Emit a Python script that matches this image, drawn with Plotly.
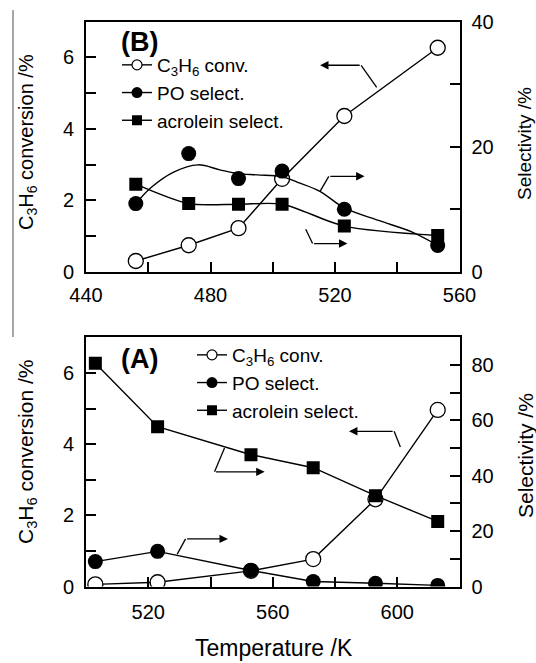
import plotly.graph_objects as go

# ---------------- data ----------------
# Panel (B)
temp_B = [456, 473, 489, 503, 523, 553]
conv_B = [0.30, 0.74, 1.22, 2.60, 4.36, 6.27]          # C3H6 conversion /%
po_B = [10.9, 18.9, 14.9, 16.1, 10.0, 4.2]             # PO selectivity /%
acro_B = [14.0, 10.9, 10.8, 10.8, 7.3, 5.8]            # acrolein selectivity /%
# smooth guide curve drawn through the PO data in panel (B)
temp_B_fit = [456, 461, 468, 476, 483, 489, 495, 503, 508, 515, 523, 534, 545, 553]
po_B_fit = [10.9, 13.5, 15.9, 17.1, 16.3, 15.7, 15.5, 15.2, 14.3, 12.9, 10.2, 8.2, 6.3, 4.2]

# Panel (A)
temp_A = [503, 523, 553, 573, 593, 613]
conv_A = [0.06, 0.12, 0.44, 0.77, 2.45, 4.96]
po_A = [9.0, 12.7, 5.8, 1.8, 1.2, 0.4]
acro_A = [80.6, 57.7, 47.6, 42.9, 32.8, 23.5]

legend_names = ["C<sub>3</sub>H<sub>6</sub> conv.", "PO select.", "acrolein select."]
x_title = "Temperature /K"
yl_title = "C<sub>3</sub>H<sub>6</sub> conversion /%"
yr_title = "Selectivity /%"

# arrows: (xref, yref, tail, corner, head)
arrows = [
    ("x", "y", (533.4, 5.16), (528.4, 5.78), (515.2, 5.78)),
    ("x", "y2", (515.2, 12.85), (518.0, 15.26), (529.5, 15.26)),
    ("x", "y2", (510.6, 6.8), (512.8, 4.5), (524.0, 4.5)),
    ("x2", "y3", (601.0, 3.92), (599.0, 4.36), (584.5, 4.36)),
    ("x2", "y4", (544.5, 50.0), (541.3, 41.4), (557.4, 41.4)),
    ("x2", "y4", (529.3, 11.7), (532.0, 17.2), (545.6, 17.2)),
]

# ---------------- figure ----------------
W, H = 536, 663
FONT = "Liberation Sans, Arial, sans-serif"
fig = go.Figure()

open_marker = dict(symbol="circle", size=15, color="white", line=dict(color="black", width=1.3))
fill_marker = dict(symbol="circle", size=15, color="black", line=dict(color="black", width=0))
sq_marker = dict(symbol="square", size=13, color="black", line=dict(color="black", width=0))
ln = dict(color="black", width=1.4)

# Panel B
fig.add_trace(go.Scatter(x=temp_B, y=conv_B, mode="lines+markers", line=ln, marker=open_marker,
                         xaxis="x", yaxis="y", showlegend=False))
fig.add_trace(go.Scatter(x=temp_B_fit, y=po_B_fit, mode="lines", line=dict(color="black", width=1.4, shape="spline", smoothing=1.0),
                         xaxis="x", yaxis="y2", showlegend=False))
fig.add_trace(go.Scatter(x=temp_B, y=acro_B, mode="lines+markers", line=dict(color="black", width=1.4, shape="spline", smoothing=0.8),
                         marker=sq_marker, xaxis="x", yaxis="y2", showlegend=False))
fig.add_trace(go.Scatter(x=temp_B, y=po_B, mode="markers", marker=fill_marker,
                         xaxis="x", yaxis="y2", showlegend=False))

# Panel A
fig.add_trace(go.Scatter(x=temp_A, y=conv_A, mode="lines+markers", line=ln, marker=open_marker,
                         xaxis="x2", yaxis="y3", showlegend=False))
fig.add_trace(go.Scatter(x=temp_A, y=po_A, mode="lines+markers", line=ln, marker=fill_marker,
                         xaxis="x2", yaxis="y4", showlegend=False))
fig.add_trace(go.Scatter(x=temp_A, y=acro_A, mode="lines+markers", line=ln, marker=sq_marker,
                         xaxis="x2", yaxis="y4", showlegend=False))

# legend entries (smaller symbols, as in the reference legends)
leg_markers = [
    dict(symbol="circle", size=10, color="white", line=dict(color="black", width=1.2)),
    dict(symbol="circle", size=11, color="black"),
    dict(symbol="square", size=10, color="black"),
]
for lg, xa, ya in (("legend", "x", "y"), ("legend2", "x2", "y3")):
    for name, mk in zip(legend_names, leg_markers):
        fig.add_trace(go.Scatter(x=[None], y=[None], mode="lines+markers", name=name, line=ln, marker=mk,
                                 xaxis=xa, yaxis=ya, legend=lg, showlegend=True))

# ---------------- axes ----------------
xd = [86 / W, 459.5 / W]
yB = [1 - 271.7 / H, 1 - 21.7 / H]
yA = [1 - 586.5 / H, 1 - 337.3 / H]

tickfont = dict(family=FONT, size=20, color="black")
common = dict(showline=True, linecolor="black", linewidth=2, ticks="inside", ticklen=10, tickwidth=1.6,
              tickcolor="black", showgrid=False, zeroline=False, tickfont=tickfont, automargin=False)

def minor(d):
    return dict(ticks="inside", ticklen=10, tickwidth=1.6, tickcolor="black", dtick=d, showgrid=False)

fig.update_layout(
    xaxis=dict(domain=xd, anchor="y", range=[440, 560], dtick=40, tick0=440, mirror=True,
               minor=minor(20), ticklabelstandoff=4, **common),
    yaxis=dict(domain=yB, anchor="x", range=[0, 7], dtick=2, tick0=0, minor=minor(1),
               ticklabelstandoff=6, **common),
    yaxis2=dict(domain=yB, anchor="x", overlaying="y", side="right", range=[0, 40], dtick=20, tick0=0,
                minor=minor(10), ticklabelstandoff=6, **common),
    xaxis2=dict(domain=xd, anchor="y3", range=[500, 620], tickvals=[520, 560, 600], mirror=True,
                minor=dict(ticks="inside", ticklen=10, tickwidth=1.6, tickcolor="black", tickvals=[540, 580]),
                ticklabelstandoff=6, **common),
    yaxis3=dict(domain=yA, anchor="x2", range=[0, 7], dtick=2, tick0=0, minor=minor(1),
                ticklabelstandoff=6, **common),
    yaxis4=dict(domain=yA, anchor="x2", overlaying="y3", side="right", range=[0, 90], dtick=20, tick0=0,
                minor=minor(10), ticklabelstandoff=6, **common),
)

legend_common = dict(xanchor="left", yanchor="top", bgcolor="rgba(0,0,0,0)", borderwidth=0,
                     font=dict(family=FONT, size=19, color="black"), tracegroupgap=0, itemwidth=30)
fig.update_layout(
    legend=dict(x=117 / W, y=1 - 46 / H, **legend_common),
    legend2=dict(x=192 / W, y=1 - 336 / H, **legend_common),
)

# ---------------- text ----------------
ann = []
ann.append(dict(text="<b>(B)</b>", x=139 / W, y=1 - 42 / H, xref="paper", yref="paper", showarrow=False,
                font=dict(family=FONT, size=27, color="black"), xanchor="center", yanchor="middle"))
ann.append(dict(text="<b>(A)</b>", x=139 / W, y=1 - 359 / H, xref="paper", yref="paper", showarrow=False,
                font=dict(family=FONT, size=27, color="black"), xanchor="center", yanchor="middle"))
ann.append(dict(text=yl_title, x=27 / W, y=1 - 142 / H, xref="paper", yref="paper", showarrow=False, textangle=-90,
                font=dict(family=FONT, size=20, color="black"), xanchor="center", yanchor="middle"))
ann.append(dict(text=yl_title, x=27 / W, y=1 - 452 / H, xref="paper", yref="paper", showarrow=False, textangle=-90,
                font=dict(family=FONT, size=21, color="black"), xanchor="center", yanchor="middle"))
ann.append(dict(text=yr_title, x=524 / W, y=1 - 144 / H, xref="paper", yref="paper", showarrow=False, textangle=-90,
                font=dict(family=FONT, size=19, color="black"), xanchor="center", yanchor="middle"))
ann.append(dict(text=yr_title, x=525 / W, y=1 - 456 / H, xref="paper", yref="paper", showarrow=False, textangle=-90,
                font=dict(family=FONT, size=21, color="black"), xanchor="center", yanchor="middle"))
ann.append(dict(text=x_title, x=274 / W, y=0, xref="paper", yref="paper", showarrow=False,
                font=dict(family=FONT, size=23, color="black"), xanchor="center", yanchor="bottom"))

shapes = []
for xr, yr, tail, corner, head in arrows:
    shapes.append(dict(type="line", xref=xr, yref=yr, x0=tail[0], y0=tail[1], x1=corner[0], y1=corner[1],
                       line=dict(color="black", width=1.3)))
    ann.append(dict(text="", x=head[0], y=head[1], xref=xr, yref=yr, ax=corner[0], ay=corner[1],
                    axref=xr, ayref=yr, showarrow=True, arrowhead=2, arrowsize=1.3, arrowwidth=1.3,
                    arrowcolor="black", standoff=0, startstandoff=0))

# gray separator line at far left
shapes.append(dict(type="line", xref="paper", yref="paper", x0=13 / W, x1=13 / W, y0=1 - 10 / H, y1=1 - 337 / H,
                   line=dict(color="#8a8a8a", width=1.5)))

fig.update_layout(
    template="none",
    width=W, height=H, margin=dict(l=0, r=0, t=0, b=0, pad=0), autosize=False,
    paper_bgcolor="white", plot_bgcolor="white",
    font=dict(family=FONT, color="black"),
    annotations=ann, shapes=shapes,
)

fig.write_html("out.html", config={"displayModeBar": False},
               post_script="document.body.style.margin='0';document.body.style.padding='0';")
